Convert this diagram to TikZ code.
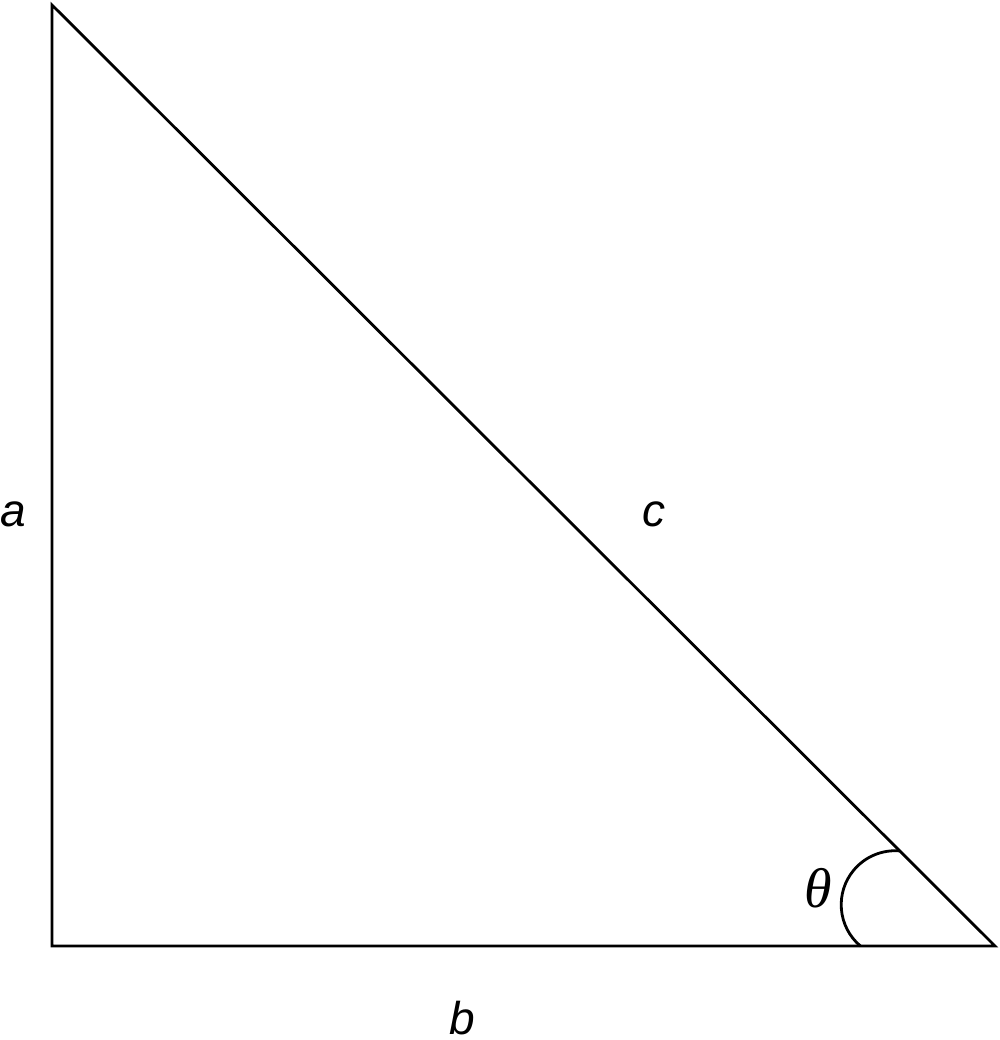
\documentclass[tikz,border=0pt]{standalone}
\usepackage{fontspec}
\setmainfont{Liberation Sans}
\newfontfamily\thetafont{Liberation Serif}
\usepackage{tikz}
\usetikzlibrary{calc}
\tikzset{side/.style={
    line width=1.4pt,
    line join=miter
  },
  side label/.style={
    font=\fontsize{23}{26}\selectfont\itshape,
    inner sep=0pt,
    anchor=center
  },
  angle label/.style={
    font=\fontsize{28}{30}\selectfont\thetafont\itshape,
    inner sep=0pt,
    anchor=center
  }
}
\begin{document}
\begin{tikzpicture}[x=0.5pt,y=0.5pt]
        \useasboundingbox (0,0) rectangle (1000,1040);
        \coordinate (Top) at (52,1035);
        \coordinate (Corner) at (52,94);
        \coordinate (Right) at (995,94);
        \draw[side] (Top) -- (Corner) -- (Right) -- cycle;
        % angle mark at the right corner
        \coordinate (Mid) at ($(Right)+(157.53:108)$);
        \draw[side] ($(Mid)+(229.9:54)$) arc[start angle=229.9, end angle=85.2, radius=27pt];
        \node[side label] (La) at (13,526) {a};
        \node[side label] (Lb) at (462,22) {b};
        \node[side label] (Lc) at (654,526) {c};
        \node[angle label] (Ltheta) at (818,152) {θ};
    \end{tikzpicture}
\end{document}
